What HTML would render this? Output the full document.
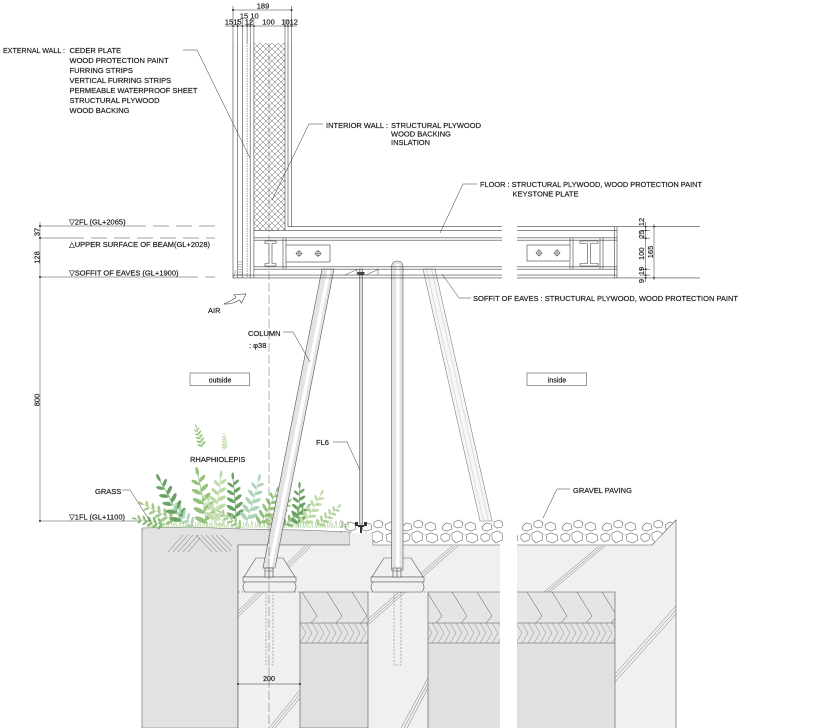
<!DOCTYPE html>
<html><head><meta charset="utf-8">
<style>
html,body{margin:0;padding:0;background:#fff;}
svg{display:block;}
text{font-family:"Liberation Sans","DejaVu Sans",Arial,sans-serif;font-size:7.5px;fill:#1a1a1a;stroke:#1a1a1a;stroke-width:0.18px;}
</style></head><body>
<svg width="818" height="728" viewBox="0 0 818 728" xmlns="http://www.w3.org/2000/svg">
<defs>
<pattern id="xh" width="6" height="6" patternUnits="userSpaceOnUse" patternTransform="translate(254,43)">
<path d="M0,0 L6,6 M6,0 L0,6" stroke="#555" stroke-width="0.45" fill="none"/>
</pattern>
<pattern id="grass" width="12" height="12" patternUnits="userSpaceOnUse">
<path d="M1,12 L0,5 M3,12 L3.6,6 M4.5,12 L6,7 M7,12 L7,4 M9,12 L8,7 M10.5,12 L11.6,5" stroke="#a8c990" stroke-width="0.6" fill="none"/>
</pattern>
<pattern id="stone" width="40" height="26" patternUnits="userSpaceOnUse" patternTransform="translate(0,519)">
<g fill="#fff" stroke="#666" stroke-width="0.6">
<polygon points="2,8 6,4 11,5 12,10 7,12 3,11"/>
<polygon points="14,3 19,1 23,4 22,8 17,9 14,7"/>
<polygon points="25,6 30,3 35,5 36,10 31,12 26,10"/>
<polygon points="1,16 6,14 10,16 9,21 4,23 1,20"/>
<polygon points="12,14 18,12 23,15 22,21 16,24 12,20"/>
<polygon points="26,16 31,14 37,16 38,21 33,24 27,22"/>
</g>
</pattern>
<pattern id="chev" width="25" height="31" patternUnits="userSpaceOnUse" patternTransform="translate(0,592)">
<path d="M2,0 L17,24 L11,31" stroke="#555" stroke-width="0.5" fill="none"/>
</pattern>
<pattern id="herr" width="12" height="20" patternUnits="userSpaceOnUse" patternTransform="translate(0,623)">
<path d="M0,0 L6,10 M6,0 L12,10 M0,20 L6,10 M6,20 L12,10" stroke="#777" stroke-width="0.45" fill="none"/>
</pattern>
<g id="lf">
<path d="M0,0 Q1,-20 0,-42" stroke="currentColor" stroke-width="0.6" fill="none"/>
<g fill="currentColor">
<ellipse cx="-3.6" cy="-6" rx="1.8" ry="4.8" transform="rotate(-55 -3.6 -6)"/>
<ellipse cx="3.6" cy="-8" rx="1.8" ry="4.8" transform="rotate(55 3.6 -8)"/>
<ellipse cx="-3.5" cy="-13" rx="1.7" ry="4.6" transform="rotate(-55 -3.5 -13)"/>
<ellipse cx="3.5" cy="-15" rx="1.7" ry="4.6" transform="rotate(55 3.5 -15)"/>
<ellipse cx="-3.2" cy="-20" rx="1.6" ry="4.3" transform="rotate(-55 -3.2 -20)"/>
<ellipse cx="3.2" cy="-22" rx="1.6" ry="4.3" transform="rotate(55 3.2 -22)"/>
<ellipse cx="-3" cy="-27" rx="1.5" ry="3.9" transform="rotate(-55 -3 -27)"/>
<ellipse cx="3" cy="-29" rx="1.5" ry="3.9" transform="rotate(55 3 -29)"/>
<ellipse cx="-2.6" cy="-34" rx="1.3" ry="3.4" transform="rotate(-50 -2.6 -34)"/>
<ellipse cx="2.6" cy="-36" rx="1.3" ry="3.4" transform="rotate(50 2.6 -36)"/>
<ellipse cx="0" cy="-42" rx="1.2" ry="3.2"/>
</g>
</g>
</defs>

<rect width="818" height="728" fill="#fff"/>

<!-- ===== GROUND ===== -->
<polygon points="142,528 190,527 240,529 300,530 350,532 350,545 238,545 238,728 142,728" fill="#e2e2e2" stroke="#666" stroke-width="0.6"/>
<rect x="238" y="545" width="262" height="183" fill="#f0f0f0"/>
<rect x="350" y="533" width="23" height="12" fill="#f0f0f0"/>
<polygon points="517,545 652,545 676,520 676,728 517,728" fill="#f0f0f0"/>
<g stroke="#555" stroke-width="0.6" fill="none">
<path d="M238,545 L238,728 M238,545 L350,545 M373,533 L373,545 L500,545 M517,545 L652,545 L676,520 L676,728"/>
</g>
<g stroke="#666" stroke-width="0.5">
<path d="M168,552 L183,535 M173,552 L188,535 M178,552 L193,535 M183,552 L198,535 M188,552 L200,538 M196,535 L212,552 M201,535 L217,552 M206,535 L222,552 M211,535 L227,552 M216,535 L231,551 M221,535 L232,546"/>
</g>
<g stroke="#777" stroke-width="0.5">
<path d="M305,546 L238,611 M308,546 L238,614 M311,546 L238,617"/>
<path d="M300,690 L269,728 M300,694 L272,728 M300,698 L275,728"/>
<path d="M452,546 L368,619 M455,546 L368,622 M458,546 L369,624"/>
<path d="M428,678 L401,728 M428,683 L404,728 M428,688 L407,728"/>
<path d="M599,546 L544,592 M602,546 L547,592 M605,546 L550,592"/>
<path d="M676,606 L615,674 M676,610 L615,678 M676,614 L615,682"/>
</g>
<g>
<rect x="300" y="592" width="68" height="51" fill="#e5e5e5"/>
<rect x="300" y="592" width="68" height="31" fill="url(#chev)"/>
<rect x="300" y="623" width="68" height="20" fill="url(#herr)"/>
<rect x="300" y="643" width="68" height="85" fill="#e0e0e0"/>
<rect x="300" y="592" width="68" height="136" fill="none" stroke="#555" stroke-width="0.6"/>
<line x1="300" y1="623" x2="368" y2="623" stroke="#555" stroke-width="0.5"/>
<line x1="300" y1="643" x2="368" y2="643" stroke="#555" stroke-width="0.5"/>

<rect x="428" y="592" width="72" height="51" fill="#e5e5e5"/>
<rect x="428" y="592" width="72" height="31" fill="url(#chev)"/>
<rect x="428" y="623" width="72" height="20" fill="url(#herr)"/>
<rect x="428" y="643" width="72" height="85" fill="#e0e0e0"/>
<path d="M500,592 L428,592 L428,728" fill="none" stroke="#555" stroke-width="0.6"/>
<line x1="428" y1="623" x2="500" y2="623" stroke="#555" stroke-width="0.5"/>
<line x1="428" y1="643" x2="500" y2="643" stroke="#555" stroke-width="0.5"/>

<rect x="517" y="592" width="98" height="51" fill="#e5e5e5"/>
<rect x="517" y="592" width="98" height="31" fill="url(#chev)"/>
<rect x="517" y="623" width="98" height="20" fill="url(#herr)"/>
<rect x="517" y="643" width="98" height="85" fill="#e0e0e0"/>
<path d="M517,592 L615,592 L615,728" fill="none" stroke="#555" stroke-width="0.6"/>
<line x1="517" y1="623" x2="615" y2="623" stroke="#555" stroke-width="0.5"/>
<line x1="517" y1="643" x2="615" y2="643" stroke="#555" stroke-width="0.5"/>
</g>
<g stroke="#666" stroke-width="0.5" stroke-dasharray="2 1.5" fill="none">
<line x1="238" y1="592" x2="300" y2="592"/>
<line x1="368" y1="592" x2="428" y2="592"/>
<rect x="266" y="577" width="7" height="88"/>
<rect x="394" y="577" width="7" height="88"/>
</g>
<g fill="#f0f0f0" stroke="#555" stroke-width="0.6">
<polygon points="256,558 283,558 295,577 244,577"/>
<rect x="243" y="577" width="53" height="5"/>
<path d="M245,582 L294,582 Q298,587 294,592 L245,592 Q241,587 245,582 Z"/>
<polygon points="384,558 411,558 423,577 372,577"/>
<rect x="371" y="577" width="53" height="5"/>
<path d="M373,582 L422,582 Q426,587 422,592 L373,592 Q369,587 373,582 Z"/>
</g>

<polygon points="423,269 435,269 492,521 480,521" fill="#f6f6f6" stroke="#777" stroke-width="0.55"/>
<path d="M426.5,269 L483.5,521 M431.5,269 L488.5,521" stroke="#bbb" stroke-width="0.4"/>

<polygon points="340,519 503,519 503,545 373,545 373,533 340,533" fill="url(#stone)"/>
<polygon points="517,519 676,519 652,545 517,545" fill="url(#stone)"/>

<rect x="145" y="516" width="205" height="12" fill="url(#grass)"/>

<g opacity="0.92">
<use href="#lf" color="#8dbd73" transform="translate(203,448) rotate(-18) scale(0.55)"/>
<use href="#lf" color="#a6cf8c" transform="translate(225,450) rotate(-4) scale(0.38)"/>
<use href="#lf" color="#7fb56c" transform="translate(165,525) rotate(-78) scale(0.75)"/>
<use href="#lf" color="#9ec582" transform="translate(176,522) rotate(-62) scale(0.95)"/>
<use href="#lf" color="#5f9c59" transform="translate(183,524) rotate(-28) scale(1.25)"/>
<use href="#lf" color="#a9d1b4" transform="translate(195,527) rotate(-45) scale(0.8)"/>
<use href="#lf" color="#8dbd73" transform="translate(207,527) rotate(-10) scale(1.35)"/>
<use href="#lf" color="#b9d7a0" transform="translate(214,524) rotate(8) scale(1.2)"/>
<use href="#lf" color="#c9e0b6" transform="translate(226,527) rotate(-36) scale(0.9)"/>
<use href="#lf" color="#5f9c59" transform="translate(236,522) rotate(-4) scale(1.1)"/>
<use href="#lf" color="#9ec582" transform="translate(243,528) rotate(-55) scale(0.7)"/>
<use href="#lf" color="#a9d1b4" transform="translate(246,524) rotate(16) scale(1.15)"/>
<use href="#lf" color="#8dbd73" transform="translate(259,527) rotate(26) scale(1.0)"/>
<use href="#lf" color="#9ec582" transform="translate(266,527) rotate(42) scale(0.85)"/>
<use href="#lf" color="#7fb56c" transform="translate(283,527) rotate(50) scale(0.8)"/>
<use href="#lf" color="#5f9c59" transform="translate(298,527) rotate(2) scale(1.0)"/>
<use href="#lf" color="#b9d7a0" transform="translate(302,527) rotate(30) scale(0.95)"/>
<use href="#lf" color="#a6cf8c" transform="translate(316,527) rotate(48) scale(0.75)"/>
</g>

<rect x="359.5" y="269" width="3" height="255" fill="#ddd" stroke="#444" stroke-width="0.5"/>
<g fill="#333">
<rect x="355" y="522" width="3" height="4"/><rect x="364" y="522" width="3" height="4"/>
<rect x="358" y="525" width="6" height="2"/><rect x="360" y="527" width="2" height="6"/>
</g>

<polygon points="322,269 334,269 275,568 263,568" fill="#e4e4e4" stroke="#555" stroke-width="0.6"/>
<line x1="329" y1="270" x2="270" y2="567" stroke="#fff" stroke-width="3.5"/>
<path d="M391.5,570 L391.5,268 Q391.5,261 397.25,261 Q403,261 403,268 L403,570 Z" fill="#e4e4e4" stroke="#555" stroke-width="0.6"/>
<line x1="397.8" y1="264" x2="397.8" y2="569" stroke="#fff" stroke-width="3.5"/>
<g fill="#f0f0f0" stroke="#444" stroke-width="0.6">
<rect x="265" y="568" width="8" height="9"/><path d="M265,571 L273,571 M269,568 L269,577" fill="none"/>
<rect x="393" y="568" width="8" height="9"/><path d="M393,571 L401,571 M397,568 L397,577" fill="none"/>
</g>

<line x1="269" y1="43" x2="269" y2="728" stroke="#666" stroke-width="0.5" stroke-dasharray="9 3"/>

<!-- WALL -->
<rect x="254" y="43" width="31" height="187.4" fill="url(#xh)"/>
<g stroke="#444" stroke-width="0.6" fill="none">
<path d="M233,43 L233,277.9 M237.7,43 L237.7,277.9 M242.4,43 L242.4,277.9 M250.2,43 L250.2,277.9 M253.9,43 L253.9,277.9"/>
<path d="M285,43 L285,230.4 M288,43 L288,226.7 M291.5,43 L291.5,226.7"/>
<path d="M254,230.4 L285,230.4"/>
</g>
<line x1="247.1" y1="43" x2="247.1" y2="277.9" stroke="#444" stroke-width="0.5" stroke-dasharray="1.5 1"/>
<g stroke="#555" stroke-width="0.4">
<path d="M237.7,262 L242.4,262 M237.7,264.5 L242.4,264.5 M237.7,267 L242.4,267 M237.7,269.5 L242.4,269.5 M237.7,272 L242.4,272 M237.7,274.5 L242.4,274.5"/>
<path d="M233,278.5 L236,270"/>
</g>

<!-- FLOOR left -->
<g stroke="#444" stroke-width="0.6" fill="none">
<path d="M288,226.7 L502,226.7 M285,230.4 L502,230.4"/>
<path d="M254,237.8 L502,237.8 M254,240.2 L502,240.2 M254,266.8 L502,266.8 M254,269.2 L502,269.2"/>
<path d="M233,275.1 L502,275.1 M233,277.9 L502,277.9"/>
</g>
<g stroke="#444" stroke-width="0.6" fill="#fff">
<path d="M265,241 L276,241 L276,243.5 L272,243.5 L272,263.5 L276,263.5 L276,266 L265,266 L265,263.5 L269,263.5 L269,243.5 L265,243.5 Z"/>
<path d="M283,238 L283,269 M286,238 L286,245 M286,262 L286,269" fill="none"/>
<rect x="286" y="245" width="44" height="17"/>
<circle cx="299" cy="253.5" r="2.4" fill="none"/><path d="M295.5,253.5 L302.5,253.5 M299,250 L299,257" fill="none"/>
<circle cx="318" cy="253.5" r="2.4" fill="none"/><path d="M314.5,253.5 L321.5,253.5 M318,250 L318,257" fill="none"/>
</g>
<g stroke="#444" stroke-width="0.5" fill="none">
<path d="M345,275 L357,269.5 L357,275 M366,275 L378,269.5 L378,275"/>
</g>
<rect x="357.5" y="272" width="7" height="3" fill="#444"/>

<!-- FLOOR right -->
<g stroke="#444" stroke-width="0.6" fill="none">
<path d="M517,226.7 L700,226.7 M517,277.9 L700,277.9"/>
<path d="M517,230.4 L617,230.4 M517,237.8 L617,237.8 M517,240.2 L617,240.2 M517,266.8 L617,266.8 M517,269.2 L617,269.2 M517,275.1 L617,275.1"/>
<path d="M614.5,226.7 L614.5,277.9 M617,226.7 L617,277.9"/>
<path d="M570,238 L570,245 M573,238 L573,269 M570,262 L570,269"/>
<path d="M600,238 L600,269 M603,238 L603,269"/>
</g>
<g stroke="#444" stroke-width="0.6" fill="#fff">
<rect x="527" y="245" width="43" height="16"/>
<circle cx="539" cy="253" r="2.4" fill="none"/><path d="M535.5,253 L542.5,253 M539,249.5 L539,256.5" fill="none"/>
<circle cx="557" cy="253" r="2.4" fill="none"/><path d="M553.5,253 L560.5,253 M557,249.5 L557,256.5" fill="none"/>
<path d="M580,241 L598,241 L598,243.5 L590.5,243.5 L590.5,263.5 L598,263.5 L598,266 L580,266 L580,263.5 L587.5,263.5 L587.5,243.5 L580,243.5 Z"/>
</g>

<!-- DIMENSIONS TOP -->
<g stroke="#333" stroke-width="0.5">
<line x1="233" y1="10" x2="291.5" y2="10"/>
<line x1="225" y1="26" x2="297" y2="26"/>
<line x1="233" y1="6" x2="233" y2="43"/>
<line x1="291.5" y1="6" x2="291.5" y2="43"/>
<path d="M237.7,19 L237.7,43 M242.4,19 L242.4,43 M247.1,19 L247.1,43 M250.2,19 L250.2,43 M253.9,19 L253.9,43 M285,19 L285,43 M288,19 L288,43"/>
</g>
<g fill="#222">
<circle cx="233" cy="10" r="1"/><circle cx="291.5" cy="10" r="1"/>
<circle cx="233" cy="26" r="0.9"/><circle cx="237.7" cy="26" r="0.9"/><circle cx="242.4" cy="26" r="0.9"/><circle cx="247.1" cy="26" r="0.9"/><circle cx="250.2" cy="26" r="0.9"/><circle cx="253.9" cy="26" r="0.9"/><circle cx="285" cy="26" r="0.9"/><circle cx="288" cy="26" r="0.9"/><circle cx="291.5" cy="26" r="0.9"/>
</g>
<g text-anchor="middle" style="font-size:7px">
<text x="263" y="8.5">189</text>
<text x="244" y="18.5">15</text><text x="254.5" y="18.5">10</text>
<text x="229" y="24.5">15</text><text x="237.5" y="24.5">15</text><text x="249" y="24.5">12</text><text x="268.5" y="24.5">100</text><text x="285.5" y="24.5">10</text><text x="293.8" y="24.5">12</text>
</g>

<!-- DIMENSIONS RIGHT -->
<g stroke="#333" stroke-width="0.5">
<line x1="645.7" y1="222" x2="645.7" y2="282"/>
<line x1="654" y1="224" x2="654" y2="280"/>
<path d="M640,230.4 L650,230.4 M640,238.2 L650,238.2 M640,269.2 L650,269.2 M640,275.1 L650,275.1"/>
</g>
<g fill="#222">
<circle cx="645.7" cy="226.7" r="0.9"/><circle cx="645.7" cy="230.4" r="0.9"/><circle cx="645.7" cy="238.2" r="0.9"/><circle cx="645.7" cy="269.2" r="0.9"/><circle cx="645.7" cy="275.1" r="0.9"/><circle cx="645.7" cy="277.9" r="0.9"/>
<circle cx="654" cy="226.7" r="0.9"/><circle cx="654" cy="277.9" r="0.9"/>
</g>
<g text-anchor="middle" style="font-size:7px">
<text transform="translate(644,222) rotate(-90)">12</text>
<text transform="translate(644,234.3) rotate(-90)">25</text>
<text transform="translate(644,253.7) rotate(-90)">100</text>
<text transform="translate(644,271) rotate(-90)">19</text>
<text transform="translate(644,281) rotate(-90)">9</text>
<text transform="translate(653,252) rotate(-90)">165</text>
</g>

<!-- LEVEL LINES -->
<g stroke="#444" stroke-width="0.5" fill="none">
<line x1="40" y1="222" x2="40" y2="521"/>
<line x1="40" y1="226" x2="130" y2="226"/>
<line x1="130" y1="226" x2="215" y2="226" stroke-dasharray="16 7"/>
<line x1="40" y1="238" x2="68" y2="238"/>
<line x1="68" y1="238" x2="215" y2="238" stroke-dasharray="16 7"/>
<line x1="40" y1="277" x2="182" y2="277"/>
<line x1="182" y1="277" x2="215" y2="277" stroke-dasharray="16 7"/>
<line x1="40" y1="521" x2="130" y2="521"/>
<line x1="130" y1="521" x2="150" y2="521" stroke-dasharray="10 5"/>
</g>
<g fill="#222">
<circle cx="40" cy="226" r="1"/><circle cx="40" cy="238" r="1"/><circle cx="40" cy="277" r="1"/><circle cx="40" cy="521" r="1"/>
</g>
<g text-anchor="middle" style="font-size:7px">
<text transform="translate(39.5,232) rotate(-90)">37</text>
<text transform="translate(39.5,257.5) rotate(-90)">128</text>
<text transform="translate(39.5,400) rotate(-90)">800</text>
</g>
<text x="69" y="224.5">▽2FL (GL+2065)</text>
<text x="69" y="247">△UPPER SURFACE OF BEAM(GL+2028)</text>
<text x="69" y="275.5">▽SOFFIT OF EAVES (GL+1900)</text>
<text x="69" y="519.5">▽1FL (GL+1100)</text>

<!-- LABELS -->
<text x="3" y="53" textLength="62" lengthAdjust="spacingAndGlyphs">EXTERNAL WALL :</text>
<text x="69.5" y="53">CEDER PLATE</text>
<text x="69.5" y="63">WOOD PROTECTION PAINT</text>
<text x="69.5" y="73">FURRING STRIPS</text>
<text x="69.5" y="83">VERTICAL FURRING STRIPS</text>
<text x="69.5" y="93">PERMEABLE WATERPROOF SHEET</text>
<text x="69.5" y="103">STRUCTURAL PLYWOOD</text>
<text x="69.5" y="113">WOOD BACKING</text>

<text x="326" y="128">INTERIOR WALL :</text>
<text x="391" y="128">STRUCTURAL PLYWOOD</text>
<text x="391" y="136.5">WOOD BACKING</text>
<text x="391" y="145">INSLATION</text>

<text x="480" y="187" textLength="222" lengthAdjust="spacingAndGlyphs">FLOOR : STRUCTURAL PLYWOOD, WOOD PROTECTION PAINT</text>
<text x="512.5" y="196.5">KEYSTONE PLATE</text>

<text x="473" y="301" textLength="265" lengthAdjust="spacingAndGlyphs">SOFFIT OF EAVES : STRUCTURAL PLYWOOD, WOOD PROTECTION PAINT</text>

<text x="208" y="313">AIR</text>
<text x="248" y="336">COLUMN</text>
<text x="249" y="348">: φ38</text>
<text x="316" y="445">FL6</text>
<text x="190" y="462">RHAPHIOLEPIS</text>
<text x="95" y="494">GRASS</text>
<text x="573" y="493">GRAVEL PAVING</text>

<rect x="190" y="373" width="59.5" height="12.5" fill="#fff" stroke="#555" stroke-width="0.6"/>
<text x="220" y="382.3" text-anchor="middle" style="font-size:7px">outside</text>
<rect x="527" y="373" width="59.5" height="12.5" fill="#fff" stroke="#555" stroke-width="0.6"/>
<text x="557" y="382.3" text-anchor="middle" style="font-size:7px">inside</text>

<line x1="238" y1="684" x2="300" y2="684" stroke="#333" stroke-width="0.5"/>
<circle cx="238" cy="684" r="1" fill="#222"/><circle cx="300" cy="684" r="1" fill="#222"/>
<text x="269" y="681" text-anchor="middle" style="font-size:7px">200</text>

<g stroke="#333" stroke-width="0.5" fill="none">
<path d="M183,50 L197,50 L250,158"/>
<path d="M323,124 L309,124 L272,200"/>
<path d="M477,184 L463,184 L440,233"/>
<path d="M471,298 L459,298 L442,274"/>
<path d="M283,332 L293,332 L310,362"/>
<path d="M333,442 L347,442 L360,470"/>
<path d="M122,490 L130,490 L150,521"/>
<path d="M570,489 L557,489 L543,518"/>
</g>
<path d="M224,304 Q231,301 236,297.5 L234,294.5 L246,294 L241.5,303 L239.5,300 Q232,304.5 224,304 Z" fill="#fff" stroke="#444" stroke-width="0.6"/>
</svg>
</body></html>
